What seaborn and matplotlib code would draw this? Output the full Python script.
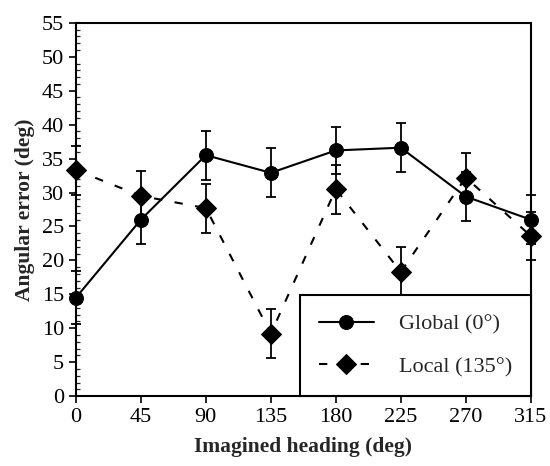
import matplotlib
matplotlib.use("Agg")
import matplotlib.pyplot as plt
import seaborn as sns
import pandas as pd
import numpy as np
from matplotlib.ticker import MultipleLocator

headings = [0, 45, 90, 135, 180, 225, 270, 315]
global_err = [14.5, 26.0, 35.5, 32.9, 36.2, 36.6, 29.4, 26.0]
global_se = [3.9, 3.6, 3.6, 3.6, 3.5, 3.6, 3.6, 3.6]
local_err = [33.3, 29.5, 27.7, 9.2, 30.5, 18.3, 32.2, 23.6]
local_se = [3.6, 3.6, 3.6, 3.6, 3.6, 3.6, 3.6, 3.6]
series_names = ["Global (0°)", "Local (135°)"]

sns.set_style("ticks")
plt.rcParams['font.family'] = ['Liberation Serif', 'DejaVu Serif']

df = pd.DataFrame({
    "heading": headings * 2,
    "error": global_err + local_err,
    "cond": [series_names[0]] * len(headings) + [series_names[1]] * len(headings),
})

fig = plt.figure(figsize=(5.5, 4.66), dpi=100)
ax = fig.add_axes([0.138, 0.150, 0.827, 0.801])

for vals, se in [(global_err, global_se), (local_err, local_se)]:
    ax.errorbar(headings, vals, yerr=se, fmt='none', ecolor='black',
                elinewidth=1.3, capsize=3.5, capthick=1.3, clip_on=False, zorder=2)

sns.lineplot(data=df, x="heading", y="error", style="cond", hue="cond",
             palette=["black", "black"], markers={series_names[0]: "o", series_names[1]: "D"},
             dashes={series_names[0]: "", series_names[1]: (4, 6)},
             markersize=10, markeredgecolor="black", linewidth=1.5, ax=ax,
             clip_on=False, zorder=3)

for line in ax.lines:
    line.set_clip_on(False)

ax.set_xlim(0, 315)
ax.set_ylim(0, 55)
ax.set_xticks(headings)
ax.yaxis.set_major_locator(MultipleLocator(5))
ax.yaxis.set_minor_locator(MultipleLocator(1))
ax.tick_params(axis='both', which='major', labelsize=16, length=5, width=1.2, direction='out', colors='black')
ax.tick_params(axis='y', which='minor', length=3, width=0.9, direction='in')
for s in ax.spines.values():
    s.set_visible(True)
    s.set_linewidth(1.5)
    s.set_color('black')

ax.set_xlabel("Imagined heading (deg)", fontsize=15.5, fontweight='bold', labelpad=7)
ax.set_ylabel("Angular error (deg)", fontsize=15.5, fontweight='bold', labelpad=5)

handles, labels = ax.get_legend_handles_labels()
leg = ax.legend(handles, labels, loc='lower right', fontsize=16, frameon=True,
                fancybox=False, edgecolor='black', borderaxespad=0, handlelength=2.5,
                labelspacing=1.0, borderpad=0.85, handletextpad=1.1, framealpha=1)
leg.get_frame().set_linewidth(1.5)

fig.savefig("out.png", dpi=100)
